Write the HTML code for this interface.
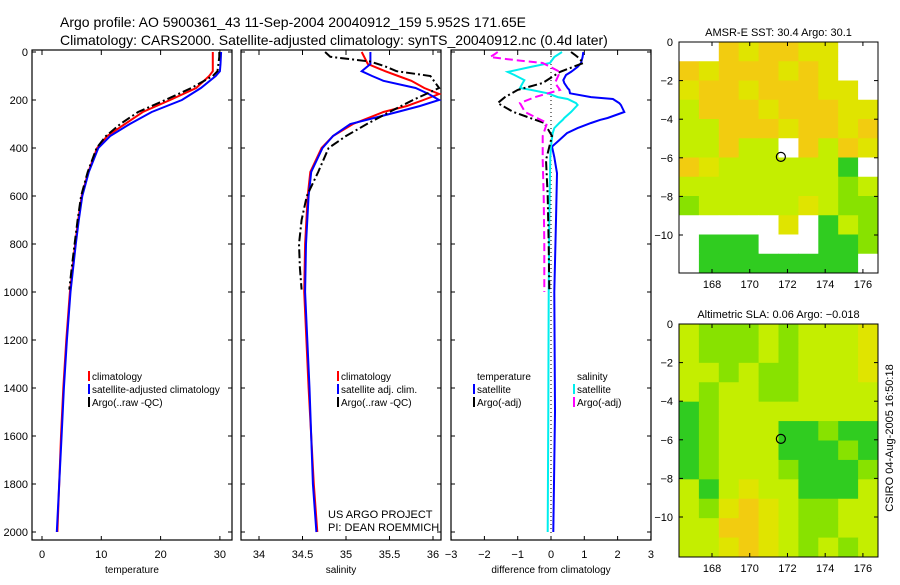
<!DOCTYPE html>
<html><head><meta charset="utf-8"><style>
body{margin:0;background:#fff;width:900px;height:580px;overflow:hidden}
svg{font-family:"Liberation Sans",sans-serif}
</style></head><body>
<svg id="c" width="900" height="580" xmlns="http://www.w3.org/2000/svg">
<text x="60" y="27" font-size="14">Argo profile: AO 5900361_43 11-Sep-2004 20040912_159 5.952S 171.65E</text>
<text x="60" y="45" font-size="14">Climatology: CARS2000. Satellite-adjusted climatology: synTS_20040912.nc (0.4d later)</text>
<text transform="translate(893,438) rotate(-90)" text-anchor="middle" font-size="11">CSIRO 04-Aug-2005 16:50:18</text>
</svg>
<script>
const depths=[0,50,80,100,150,200,250,300,350,400,500,600,700,800,1000,1200,1400,1600,1800,2000];
const tempClim=[28.8,28.8,28.8,28.2,26,21.6,17,14,11,9.3,7.8,6.7,6.1,5.6,4.7,4.1,3.6,3.2,2.9,2.6];
const tempSat=[30.2,30.1,30,29.3,26.8,23.6,18.5,14.8,11.5,9.5,7.9,6.8,6.2,5.7,4.8,4.2,3.7,3.3,2.9,2.5];
const argoDepths=[0,20,40,60,80,100,150,200,250,300,350,400,500,600,700,800,900,990];
const tempArgo=[29.9,29.9,29.8,29.7,29.6,28.8,25.2,20.8,16.2,13.2,10.8,9.2,7.7,6.6,6.0,5.5,5.0,4.6];
const salDepths=[0,50,80,100,120,150,175,200,225,250,300,350,400,500,600,800,1000,1400,1800,2000];
const salClim=[35.18,35.25,35.45,35.6,35.75,35.9,36.07,35.89,35.7,35.43,35.08,34.85,34.72,34.59,34.56,34.53,34.52,34.57,34.63,34.67];
const salSat=[35.28,35.28,35.18,35.3,35.43,35.8,35.95,36.07,35.85,35.59,35.05,34.85,34.73,34.6,34.57,34.54,34.53,34.58,34.62,34.66];
const salArgo=[34.76,34.82,35.28,35.45,35.58,35.97,36.07,35.77,35.5,35.24,35.0,34.8,34.68,34.55,34.49,34.46,34.47,34.49];
const diffDepths=[0,21,46,62,83,96,117,129,150,158,172,188,196,213,221,250,275,283,296,317,338,367,394,438,505,700,1000,1500,2000];
const dTempSat=[0.97,0.95,0.9,0.8,0.6,0.45,0.37,0.4,0.5,0.55,0.57,1.2,1.86,2.05,2.1,2.2,1.7,1.47,1.2,0.8,0.48,0.25,0.03,0.1,0.18,0.15,0.1,0.12,0.07];
const dSalSat=[0.33,0.1,-0.03,-0.6,-1.3,-1.1,-0.8,-0.85,-0.93,-0.6,-0.1,0.2,0.5,0.75,0.8,0.6,0.4,0.35,0.25,0.1,0.05,0.02,0.0,-0.02,-0.03,-0.05,-0.07,-0.08,-0.1];
const argoDiffDepths=[0,10,21,35,46,83,129,158,188,213,250,296,350,450,600,800,1000];
const dTempArgo=[0.6,0.7,0.8,0.9,0.97,0.27,-0.25,-1.0,-1.38,-1.6,-1.13,-0.2,0.03,-0.15,-0.1,-0.07,-0.05];
const dSalArgo=[-1.6,-1.7,-1.83,-1.0,-0.25,0.27,0.12,0.27,-0.48,-0.93,-0.78,-0.12,-0.25,-0.25,-0.22,-0.2,-0.2];
const depthTicks=[0,200,400,600,800,1000,1200,1400,1600,1800,2000];
const tempTicks=[0,10,20,30], salTicks=[34,34.5,35,35.5,36], diffTicks=[-3,-2,-1,0,1,2,3];
const lonTicks=[168,170,172,174,176], latTicks=[0,-2,-4,-6,-8,-10];
const sstGrid=["WWOYOOYYWW","OYOOOYOYWW","YOOYOOOYYW","LOOOYOOOYY","LLOOOYOOYO","LLOLLWOLOY","OYLLLLLLDW","LLLLLLLLGL","GLLLLLYLGG","WWWWWYWDLG","WDDDWWWDDG","WDDDDDDDDW"];
const slaGrid=["LGGGLGLLLY","LGGGLGLLLY","LLGLGGLLLY","LGLLGGLLLL","DGLLLLLLLL","DGLLLDDGDD","DGLLLDDDGD","DGLLLGDDDG","LDLYLLDDDL","LGYOYLGGLL","LLOOYLGGLL","LLYOYLGLGL"];
const palette={O:"#f2cc10",Y:"#e0e400",L:"#c4ee00",G:"#88e200",D:"#30cc20",W:"#ffffff"};
const argoLon=171.65, argoLat=-5.952;

const svg=document.getElementById('c');const NS="http://www.w3.org/2000/svg";
function mk(tag,attrs,parent){const e=document.createElementNS(NS,tag);for(const k in attrs)e.setAttribute(k,attrs[k]);(parent||svg).appendChild(e);return e;}
const Y0=52,YS=0.24,FB=540;
function yD(d){return Y0+d*YS;}
const panels=[
 {x0:32,x1:232,xv0:0,xpx:5.93,xorg:42,ticks:tempTicks,title:"temperature",name:"temperature-panel"},
 {x0:241,x1:441,xv0:34,xpx:87,xorg:259,ticks:salTicks,title:"salinity",name:"salinity-panel"},
 {x0:451,x1:651,xv0:0,xpx:33.3,xorg:551,ticks:diffTicks,title:"difference from climatology",name:"difference-panel"}];
function xf(p,v){return p.xorg+(v-p.xv0)*p.xpx;}
panels.forEach((p,i)=>{
 const g=mk('g',{});
 
 
 const r=mk('rect',{x:p.x0,y:Y0-2,width:p.x1-p.x0,height:FB-Y0+2,fill:'none',stroke:'#000','stroke-width':1.2},g);
 
 
 depthTicks.forEach(d=>{
  mk('line',{x1:p.x0,x2:p.x0+4,y1:yD(d),y2:yD(d),stroke:'#000'},g);
  mk('line',{x1:p.x1-4,x2:p.x1,y1:yD(d),y2:yD(d),stroke:'#000'},g);
  if(i===0){const t=mk('text',{x:p.x0-4,y:yD(d)+4,'text-anchor':'end','font-size':11},g);t.textContent=d;
   
   }
 });
 p.ticks.forEach(v=>{const x=xf(p,v);
  mk('line',{x1:x,x2:x,y1:Y0-2,y2:Y0+3,stroke:'#000'},g);
  mk('line',{x1:x,x2:x,y1:FB-4,y2:FB,stroke:'#000'},g);
  const t=mk('text',{x:x,y:558,'text-anchor':'middle','font-size':11},g);t.textContent=(v<0?'\u2212'+(-v):v);
  
  });
 const tt=mk('text',{x:(p.x0+p.x1)/2,y:573,'text-anchor':'middle','font-size':10},g);tt.textContent=p.title;
 
 
});
function line(p,ds,vs,color,dash,name,w){
 const pts=ds.map((d,k)=>xf(p,vs[k]).toFixed(1)+','+yD(d).toFixed(1)).join(' ');
 const e=mk('polyline',{points:pts,fill:'none',stroke:color,'stroke-width':w||2,'stroke-dasharray':dash||'none'});
 
 
}
const DD="9,3,2,3";
line(panels[0],depths,tempClim,'#f00',null,'temp-climatology-line');
line(panels[0],depths,tempSat,'#00f',null,'temp-satellite-line');
line(panels[0],argoDepths,tempArgo,'#000',DD,'temp-argo-line');
line(panels[1],salDepths,salClim,'#f00',null,'sal-climatology-line');
line(panels[1],salDepths,salSat,'#00f',null,'sal-satellite-line');
line(panels[1],argoDepths,salArgo,'#000',DD,'sal-argo-line');
const zl=mk('line',{x1:551,x2:551,y1:Y0,y2:FB,stroke:'#000','stroke-dasharray':'1,3'});


line(panels[2],diffDepths,dTempSat,'#00f',null,'diff-temp-satellite-line');
line(panels[2],diffDepths,dSalSat,'#0ee',null,'diff-sal-satellite-line');
line(panels[2],argoDiffDepths,dTempArgo,'#000',DD,'diff-temp-argo-line');
line(panels[2],argoDiffDepths,dSalArgo,'#f0f',"8,4",'diff-sal-argo-line');
function legend(x,y,items,name){
 const g=mk('g',{});
 
 
 items.forEach((it,k)=>{const yy=y+k*13;
  if(it[1])mk('line',{x1:x,x2:x,y1:yy-9,y2:yy+1,stroke:it[1],'stroke-width':2},g);
  const t=mk('text',{x:x+3,y:yy,'font-size':10},g);t.textContent=it[0];
  
  });
}
legend(89,380,[["climatology","#f00"],["satellite-adjusted climatology","#00f"],["Argo(..raw -QC)","#000"]],'temperature-legend');
legend(338,380,[["climatology","#f00"],["satellite adj. clim.","#00f"],["Argo(..raw -QC)","#000"]],'salinity-legend');
legend(474,380,[["temperature",null],["satellite","#00f"],["Argo(-adj)","#000"]],'diff-temp-legend');
legend(574,380,[["salinity",null],["satellite","#0ee"],["Argo(-adj)","#f0f"]],'diff-sal-legend');
const credit=mk('text',{x:328,y:518,'font-size':11});credit.textContent="US ARGO PROJECT";


const credit2=mk('text',{x:328,y:531,'font-size':11});credit2.textContent="PI: DEAN ROEMMICH";



function map(top,bottom,grid,title,name){
 const L=679,R=878,lon0=166.25,lon1=176.8,latMin=-((bottom-top)/19.3);
 const lx=v=>L+(v-lon0)/(lon1-lon0)*(R-L), ly=v=>top+(v/latMin)*(bottom-top);
 const g=mk('g',{});
 
 
 const rows=grid.length,cols=grid[0].length,cw=(R-L)/cols,ch=(bottom-top)/rows;
 grid.forEach((row,r)=>{for(let c=0;c<cols;c++){
  const cell=mk('rect',{x:L+c*cw,y:top+r*ch,width:cw+0.5,height:ch+0.5,fill:palette[row[c]]},g);
  
  }});
 mk('rect',{x:L,y:top,width:R-L,height:bottom-top,fill:'none',stroke:'#000'},g);
 lonTicks.forEach(v=>{const x=lx(v);mk('line',{x1:x,x2:x,y1:top,y2:top+4,stroke:'#000'},g);mk('line',{x1:x,x2:x,y1:bottom-4,y2:bottom,stroke:'#000'},g);
  const t=mk('text',{x:x,y:bottom+15,'text-anchor':'middle','font-size':11},g);t.textContent=v;
  
  });
 latTicks.forEach(v=>{const y=ly(v);mk('line',{x1:L,x2:L+4,y1:y,y2:y,stroke:'#000'},g);mk('line',{x1:R-4,x2:R,y1:y,y2:y,stroke:'#000'},g);
  const t=mk('text',{x:L-6,y:y+4,'text-anchor':'end','font-size':11},g);t.textContent=(v<0?'\u2212'+(-v):v);
  
  });
 const mkr=mk('circle',{cx:lx(argoLon),cy:ly(argoLat),r:4.5,fill:'none',stroke:'#000','stroke-width':1.2},g);
 
 
 const t=mk('text',{x:(L+R)/2,y:top-6,'text-anchor':'middle','font-size':11},g);t.textContent=title;
 
 
}
map(42,273,sstGrid,"AMSR-E SST: 30.4 Argo: 30.1",'sst-map');
map(324,557,slaGrid,"Altimetric SLA: 0.06 Argo: \u22120.018",'sla-map');
</script>
</body></html>
